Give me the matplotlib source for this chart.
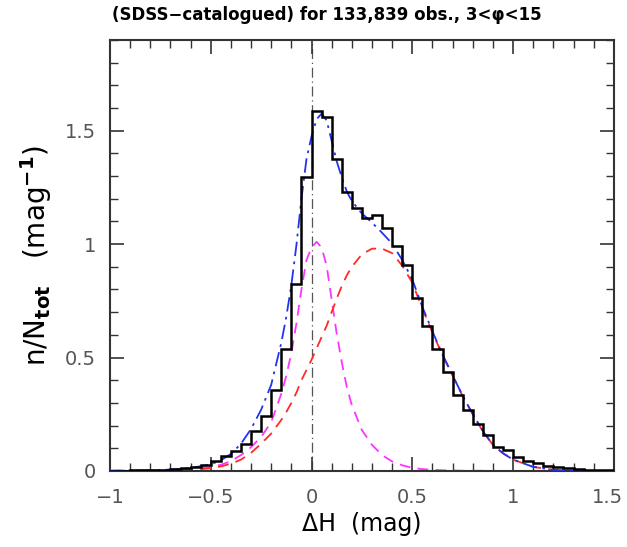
import numpy as np
import matplotlib
matplotlib.use("Agg")
import matplotlib.pyplot as plt
import matplotlib.transforms as mtransforms
from matplotlib.ticker import MultipleLocator

# histogram of Delta H, bins of 0.05 mag from -1 to 1.5
bin_edges = np.round(np.arange(-1.0, 1.5001, 0.05), 3)
hist_vals = [0.002, 0.002, 0.003, 0.003, 0.004, 0.005, 0.008, 0.012, 0.018, 0.026,
             0.045, 0.068, 0.090, 0.120, 0.176, 0.244, 0.357, 0.537, 0.825, 1.297,
             1.587, 1.560, 1.377, 1.228, 1.157, 1.113, 1.128, 1.072, 0.991, 0.910,
             0.764, 0.639, 0.537, 0.435, 0.335, 0.267, 0.206, 0.159, 0.107, 0.091,
             0.063, 0.045, 0.034, 0.023, 0.016, 0.012, 0.008, 0.005, 0.004, 0.003]

# fitted curves
curve_x = [-1.0, -0.9, -0.8, -0.7, -0.6, -0.5, -0.45, -0.4, -0.35, -0.3, -0.25, -0.2,
           -0.15, -0.125, -0.1, -0.075, -0.05, -0.025, 0.0, 0.025, 0.05, 0.075, 0.1,
           0.125, 0.15, 0.175, 0.2, 0.25, 0.3, 0.35, 0.4, 0.45, 0.5, 0.55, 0.6, 0.65, 0.7,
           0.75, 0.8, 0.85, 0.9, 0.95, 1.0, 1.1, 1.2, 1.3, 1.4, 1.5]
narrow = [0.001, 0.002, 0.003, 0.005, 0.009, 0.017, 0.027, 0.043, 0.070, 0.105, 0.150, 0.215,
          0.340, 0.420, 0.520, 0.650, 0.800, 0.930, 0.985, 1.010, 0.985, 0.905, 0.755,
          0.605, 0.480, 0.370, 0.290, 0.180, 0.115, 0.070, 0.042, 0.025, 0.014, 0.008, 0.005,
          0.003, 0.002, 0.001, 0.001, 0.001, 0.0, 0.0, 0.0, 0.0, 0.0, 0.0, 0.0, 0.0]
broad = [0.0, 0.0, 0.0, 0.001, 0.004, 0.012, 0.020, 0.032, 0.050, 0.080, 0.120, 0.165,
         0.225, 0.260, 0.300, 0.345, 0.400, 0.445, 0.490, 0.540, 0.590, 0.640, 0.700,
         0.760, 0.815, 0.862, 0.900, 0.955, 0.980, 0.980, 0.960, 0.905, 0.830, 0.715, 0.610,
         0.510, 0.420, 0.330, 0.250, 0.175, 0.115, 0.078, 0.050, 0.018, 0.005, 0.001, 0.0, 0.0]
total = [0.001, 0.002, 0.003, 0.006, 0.013, 0.029, 0.047, 0.075, 0.120, 0.185, 0.270, 0.380,
         0.565, 0.680, 0.820, 0.995, 1.200, 1.375, 1.475, 1.550, 1.575, 1.545, 1.455,
         1.365, 1.295, 1.232, 1.190, 1.135, 1.095, 1.050, 1.002, 0.930, 0.844, 0.723, 0.615,
         0.513, 0.422, 0.331, 0.251, 0.176, 0.115, 0.078, 0.050, 0.018, 0.005, 0.001, 0.0, 0.0]

xtick_vals = [-1, -0.5, 0, 0.5, 1, 1.5]
xtick_labels = ["\u22121", "\u22120.5", "0", "0.5", "1", "1.5"]
ytick_vals = [0, 0.5, 1, 1.5]
ytick_labels = ["0", "0.5", "1", "1.5"]

plt.rcParams['font.family'] = ['DejaVu Sans']

fig = plt.figure(figsize=(6.27, 5.47), dpi=100)
ax = fig.add_axes([0.1754, 0.139, 0.8036, 0.788])

ax.axvline(0, color='#555555', lw=0.9, ls=(0, (8, 3, 1, 3)), zorder=1)
ax.plot(curve_x, narrow, color='#ff33ff', lw=1.3, ls=(0, (6, 4)), zorder=2)
ax.plot(curve_x, broad, color='#ff2a2a', lw=1.3, ls=(0, (6, 4)), zorder=2)
ax.plot(curve_x, total, color='#2233ee', lw=1.3, ls=(0, (8, 3, 1.5, 3)), zorder=3)
ax.stairs(hist_vals, bin_edges, color='black', lw=1.8, zorder=4)

ax.set_xlim(-1, 1.5)
ax.set_ylim(0, 1.9)
ax.set_xticks(xtick_vals)
ax.set_xticklabels(xtick_labels)
ax.set_yticks(ytick_vals)
ax.set_yticklabels(ytick_labels)
ax.xaxis.set_minor_locator(MultipleLocator(0.1))
ax.yaxis.set_minor_locator(MultipleLocator(0.1))
ax.tick_params(which='both', direction='in', top=True, right=True, color='#333333',
               labelsize=14, labelcolor='#555555')
ax.tick_params(axis='x', pad=12)
ax.tick_params(axis='y', pad=10)
ax.tick_params(which='major', length=10, width=1.2)
ax.tick_params(which='minor', length=6, width=1.0)
for s in ax.spines.values():
    s.set_linewidth(1.5)
    s.set_color('#333333')

# nudge the last x label so it stays inside the figure
last = ax.get_xticklabels()[-1]
last.set_transform(last.get_transform() + mtransforms.ScaledTranslation(-6 / 100, 0, fig.dpi_scale_trans))

ax.set_xlabel("\u0394H  (mag)", fontsize=17, labelpad=4)
ax.set_ylabel(r"n/N$_{\mathbf{tot}}$   (mag$^{\mathbf{-1}}$)", fontsize=20, labelpad=8)
fig.text(0.179, 0.972, "(SDSS\u2212catalogued) for 133,839 obs., 3<\u03c6<15",
         fontsize=12, fontweight='bold', ha='left', va='center')

fig.savefig("out.png", dpi=100)
